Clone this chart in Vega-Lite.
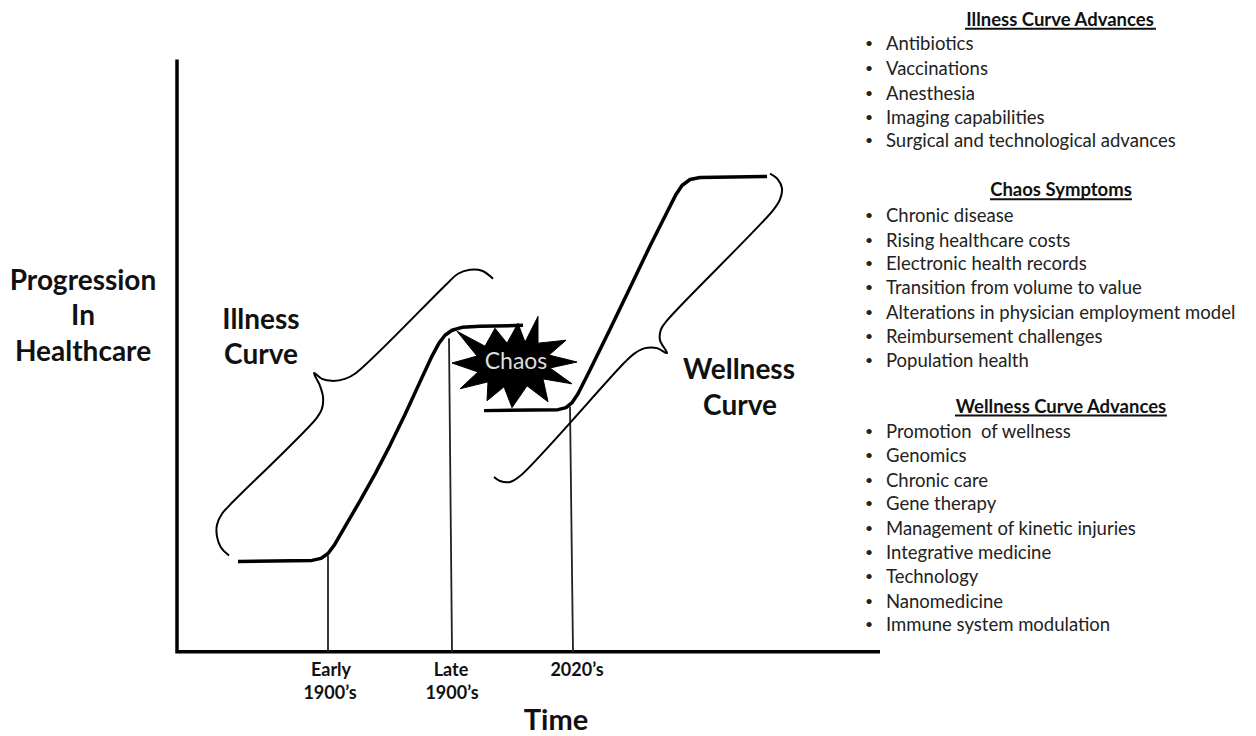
{
  "$schema": "https://vega.github.io/schema/vega-lite/v6.json",
  "width": 1256,
  "height": 736,
  "autosize": {"type": "fit", "contains": "padding"},
  "padding": 0,
  "background": "white",
  "config": {"view": {"stroke": null}},
  "datasets": {
    "axes": [{"i": 0, "x": 177, "y": 60}, {"i": 1, "x": 177, "y": 657}, {"i": 2, "x": 880, "y": 657}],
    "guides": [
      {"x": 328, "x2": 328, "y": 560, "y2": 657},
      {"x": 449, "x2": 452, "y": 341, "y2": 657},
      {"x": 570, "x2": 573, "y": 410, "y2": 657}
    ],
    "curves": [
      {"s": "illness", "i": 0, "x": 238, "y": 566},
      {"s": "illness", "i": 1, "x": 312, "y": 565},
      {"s": "illness", "i": 2, "x": 321, "y": 563},
      {"s": "illness", "i": 3, "x": 328, "y": 558},
      {"s": "illness", "i": 4, "x": 334, "y": 550},
      {"s": "illness", "i": 5, "x": 345, "y": 531},
      {"s": "illness", "i": 6, "x": 360, "y": 505},
      {"s": "illness", "i": 7, "x": 375, "y": 478},
      {"s": "illness", "i": 8, "x": 390, "y": 449},
      {"s": "illness", "i": 9, "x": 405, "y": 418},
      {"s": "illness", "i": 10, "x": 420, "y": 385},
      {"s": "illness", "i": 11, "x": 432, "y": 359},
      {"s": "illness", "i": 12, "x": 439, "y": 346},
      {"s": "illness", "i": 13, "x": 445, "y": 338},
      {"s": "illness", "i": 14, "x": 452, "y": 333},
      {"s": "illness", "i": 15, "x": 462, "y": 330},
      {"s": "illness", "i": 16, "x": 480, "y": 329},
      {"s": "illness", "i": 17, "x": 523, "y": 328},
      {"s": "wellness", "i": 0, "x": 484, "y": 414},
      {"s": "wellness", "i": 1, "x": 558, "y": 413},
      {"s": "wellness", "i": 2, "x": 566, "y": 411},
      {"s": "wellness", "i": 3, "x": 572, "y": 406},
      {"s": "wellness", "i": 4, "x": 578, "y": 397},
      {"s": "wellness", "i": 5, "x": 590, "y": 373},
      {"s": "wellness", "i": 6, "x": 610, "y": 332},
      {"s": "wellness", "i": 7, "x": 630, "y": 290},
      {"s": "wellness", "i": 8, "x": 650, "y": 248},
      {"s": "wellness", "i": 9, "x": 668, "y": 212},
      {"s": "wellness", "i": 10, "x": 676, "y": 196},
      {"s": "wellness", "i": 11, "x": 682, "y": 187},
      {"s": "wellness", "i": 12, "x": 690, "y": 181},
      {"s": "wellness", "i": 13, "x": 700, "y": 179},
      {"s": "wellness", "i": 14, "x": 767, "y": 178}
    ],
    "braces": [
      {"s": "ib", "i": 0, "x": 229, "y": 560},
      {"s": "ib", "i": 1, "x": 221, "y": 552},
      {"s": "ib", "i": 2, "x": 217, "y": 541},
      {"s": "ib", "i": 3, "x": 217, "y": 529},
      {"s": "ib", "i": 4, "x": 222, "y": 518},
      {"s": "ib", "i": 5, "x": 230, "y": 509},
      {"s": "ib", "i": 6, "x": 317, "y": 421},
      {"s": "ib", "i": 7, "x": 322, "y": 412},
      {"s": "ib", "i": 8, "x": 323, "y": 400},
      {"s": "ib", "i": 9, "x": 320, "y": 389},
      {"s": "ib", "i": 10, "x": 314, "y": 376},
      {"s": "ib", "i": 11, "x": 322, "y": 382},
      {"s": "ib", "i": 12, "x": 332, "y": 384},
      {"s": "ib", "i": 13, "x": 345, "y": 382},
      {"s": "ib", "i": 14, "x": 356, "y": 376},
      {"s": "ib", "i": 15, "x": 447, "y": 286},
      {"s": "ib", "i": 16, "x": 458, "y": 276},
      {"s": "ib", "i": 17, "x": 470, "y": 272},
      {"s": "ib", "i": 18, "x": 482, "y": 273},
      {"s": "ib", "i": 19, "x": 493, "y": 281},
      {"s": "wb", "i": 0, "x": 770, "y": 175},
      {"s": "wb", "i": 1, "x": 778, "y": 181},
      {"s": "wb", "i": 2, "x": 782, "y": 190},
      {"s": "wb", "i": 3, "x": 780, "y": 201},
      {"s": "wb", "i": 4, "x": 773, "y": 212},
      {"s": "wb", "i": 5, "x": 668, "y": 322},
      {"s": "wb", "i": 6, "x": 661, "y": 332},
      {"s": "wb", "i": 7, "x": 660, "y": 343},
      {"s": "wb", "i": 8, "x": 667, "y": 356},
      {"s": "wb", "i": 9, "x": 657, "y": 351},
      {"s": "wb", "i": 10, "x": 645, "y": 351},
      {"s": "wb", "i": 11, "x": 635, "y": 356},
      {"s": "wb", "i": 12, "x": 625, "y": 365},
      {"s": "wb", "i": 13, "x": 520, "y": 480},
      {"s": "wb", "i": 14, "x": 510, "y": 486},
      {"s": "wb", "i": 15, "x": 500, "y": 485},
      {"s": "wb", "i": 16, "x": 494, "y": 481}
    ],
    "star": [
      {"i": 0, "x": 457, "y": 334},
      {"i": 1, "x": 485, "y": 349},
      {"i": 2, "x": 495, "y": 331},
      {"i": 3, "x": 507, "y": 346},
      {"i": 4, "x": 518, "y": 326},
      {"i": 5, "x": 525, "y": 345},
      {"i": 6, "x": 538, "y": 319},
      {"i": 7, "x": 538, "y": 346},
      {"i": 8, "x": 566, "y": 343},
      {"i": 9, "x": 549, "y": 358},
      {"i": 10, "x": 577, "y": 365},
      {"i": 11, "x": 550, "y": 371},
      {"i": 12, "x": 572, "y": 387},
      {"i": 13, "x": 543, "y": 382},
      {"i": 14, "x": 548, "y": 405},
      {"i": 15, "x": 527, "y": 389},
      {"i": 16, "x": 512, "y": 411},
      {"i": 17, "x": 504, "y": 390},
      {"i": 18, "x": 487, "y": 404},
      {"i": 19, "x": 488, "y": 385},
      {"i": 20, "x": 460, "y": 392},
      {"i": 21, "x": 478, "y": 375},
      {"i": 22, "x": 452, "y": 366},
      {"i": 23, "x": 477, "y": 359},
      {"i": 24, "x": 457, "y": 334}
    ],
    "bigLabels": [
      {"t": "Progression", "x": 83, "y": 282},
      {"t": "In", "x": 83, "y": 318},
      {"t": "Healthcare", "x": 83, "y": 354},
      {"t": "Illness", "x": 261, "y": 322},
      {"t": "Curve", "x": 261, "y": 357},
      {"t": "Wellness", "x": 739, "y": 372},
      {"t": "Curve", "x": 740, "y": 408}
    ],
    "time": [{"t": "Time", "x": 556, "y": 724}],
    "ticks": [
      {"t": "Early", "x": 331, "y": 672},
      {"t": "1900’s", "x": 330, "y": 696},
      {"t": "Late", "x": 451, "y": 672},
      {"t": "1900’s", "x": 452, "y": 696},
      {"t": "2020’s", "x": 577, "y": 672}
    ],
    "chaos": [{"t": "Chaos", "x": 516, "y": 364}],
    "headings": [
      {"t": "Illness Curve Advances", "x": 1060, "y": 19},
      {"t": "Chaos Symptoms", "x": 1061, "y": 191},
      {"t": "Wellness Curve Advances", "x": 1061, "y": 409}
    ],
    "underlines": [
      {"x": 965, "x2": 1156, "y": 29},
      {"x": 990, "x2": 1132, "y": 201},
      {"x": 955, "x2": 1167, "y": 419}
    ],
    "items": [
      {"t": "Antibiotics", "x": 886, "bx": 865, "y": 43},
      {"t": "Vaccinations", "x": 886, "bx": 865, "y": 68},
      {"t": "Anesthesia", "x": 886, "bx": 865, "y": 93},
      {"t": "Imaging capabilities", "x": 886, "bx": 865, "y": 117},
      {"t": "Surgical and technological advances", "x": 886, "bx": 865, "y": 141},
      {"t": "Chronic disease", "x": 886, "bx": 865, "y": 216},
      {"t": "Rising healthcare costs", "x": 886, "bx": 865, "y": 241},
      {"t": "Electronic health records", "x": 886, "bx": 865, "y": 265},
      {"t": "Transition from volume to value", "x": 886, "bx": 865, "y": 289},
      {"t": "Alterations in physician employment model", "x": 886, "bx": 865, "y": 314},
      {"t": "Reimbursement challenges", "x": 886, "bx": 865, "y": 338},
      {"t": "Population health", "x": 886, "bx": 865, "y": 362},
      {"t": "Promotion\u00a0\u00a0of wellness", "x": 886, "bx": 865, "y": 434},
      {"t": "Genomics", "x": 886, "bx": 865, "y": 458},
      {"t": "Chronic care", "x": 886, "bx": 865, "y": 483},
      {"t": "Gene therapy", "x": 886, "bx": 865, "y": 507},
      {"t": "Management of kinetic injuries", "x": 886, "bx": 865, "y": 532},
      {"t": "Integrative medicine", "x": 886, "bx": 865, "y": 556},
      {"t": "Technology", "x": 886, "bx": 865, "y": 580},
      {"t": "Nanomedicine", "x": 886, "bx": 865, "y": 605},
      {"t": "Immune system modulation", "x": 886, "bx": 865, "y": 629}
    ]
  },
  "encoding": {
    "x": {"field": "x", "type": "quantitative", "scale": {"domain": [0, 1256], "nice": false, "zero": false}, "axis": null},
    "y": {"field": "y", "type": "quantitative", "scale": {"domain": [0, 736], "nice": false, "zero": false, "reverse": true}, "axis": null}
  },
  "layer": [
    {
      "data": {"name": "axes"},
      "mark": {"type": "line", "stroke": "black", "strokeWidth": 3.5, "strokeJoin": "miter"},
      "encoding": {"order": {"field": "i", "type": "quantitative"}}
    },
    {
      "data": {"name": "guides"},
      "mark": {"type": "rule", "stroke": "#222", "strokeWidth": 1.8},
      "encoding": {"x2": {"field": "x2"}, "y2": {"field": "y2"}}
    },
    {
      "data": {"name": "curves"},
      "mark": {"type": "line", "stroke": "black", "strokeWidth": 3.5, "strokeJoin": "round", "strokeCap": "butt"},
      "encoding": {"detail": {"field": "s"}, "order": {"field": "i", "type": "quantitative"}}
    },
    {
      "data": {"name": "braces"},
      "mark": {"type": "line", "stroke": "black", "strokeWidth": 2, "interpolate": "catmull-rom", "strokeJoin": "round"},
      "encoding": {"detail": {"field": "s"}, "order": {"field": "i", "type": "quantitative"}}
    },
    {
      "data": {"name": "star"},
      "mark": {"type": "line", "stroke": "black", "fill": "black", "strokeWidth": 1, "strokeJoin": "miter"},
      "encoding": {"order": {"field": "i", "type": "quantitative"}}
    },
    {
      "data": {"name": "chaos"},
      "mark": {"type": "text", "font": "Lato", "fontSize": 23, "fill": "#dddddd", "align": "center", "baseline": "middle", "dy": 1},
      "encoding": {"text": {"field": "t"}}
    },
    {
      "data": {"name": "bigLabels"},
      "mark": {"type": "text", "font": "Lato", "fontSize": 28, "fontWeight": "bold", "fill": "#111", "align": "center", "baseline": "middle", "dy": 2},
      "encoding": {"text": {"field": "t"}}
    },
    {
      "data": {"name": "time"},
      "mark": {"type": "text", "font": "Lato", "fontSize": 29, "fontWeight": "bold", "fill": "#111", "align": "center", "baseline": "middle", "dy": 3},
      "encoding": {"text": {"field": "t"}}
    },
    {
      "data": {"name": "ticks"},
      "mark": {"type": "text", "font": "Lato", "fontSize": 18, "fontWeight": "bold", "fill": "#111", "align": "center", "baseline": "middle", "dy": 4},
      "encoding": {"text": {"field": "t"}}
    },
    {
      "data": {"name": "headings"},
      "mark": {"type": "text", "font": "Lato", "fontSize": 18.5, "fontWeight": "bold", "fill": "#111", "align": "center", "baseline": "middle", "dy": 1},
      "encoding": {"text": {"field": "t"}}
    },
    {
      "data": {"name": "underlines"},
      "mark": {"type": "rule", "stroke": "#111", "strokeWidth": 2},
      "encoding": {"x2": {"field": "x2"}}
    },
    {
      "data": {"name": "items"},
      "mark": {"type": "text", "font": "Lato", "fontSize": 18.5, "fill": "#222", "align": "left", "baseline": "middle", "dy": 1.5},
      "encoding": {"text": {"field": "t"}}
    },
    {
      "data": {"name": "items"},
      "mark": {"type": "text", "font": "Lato", "fontSize": 14, "fill": "#222", "align": "left", "baseline": "middle", "text": "•", "dy": 1.5},
      "encoding": {"x": {"field": "bx", "type": "quantitative"}}
    }
  ]
}
